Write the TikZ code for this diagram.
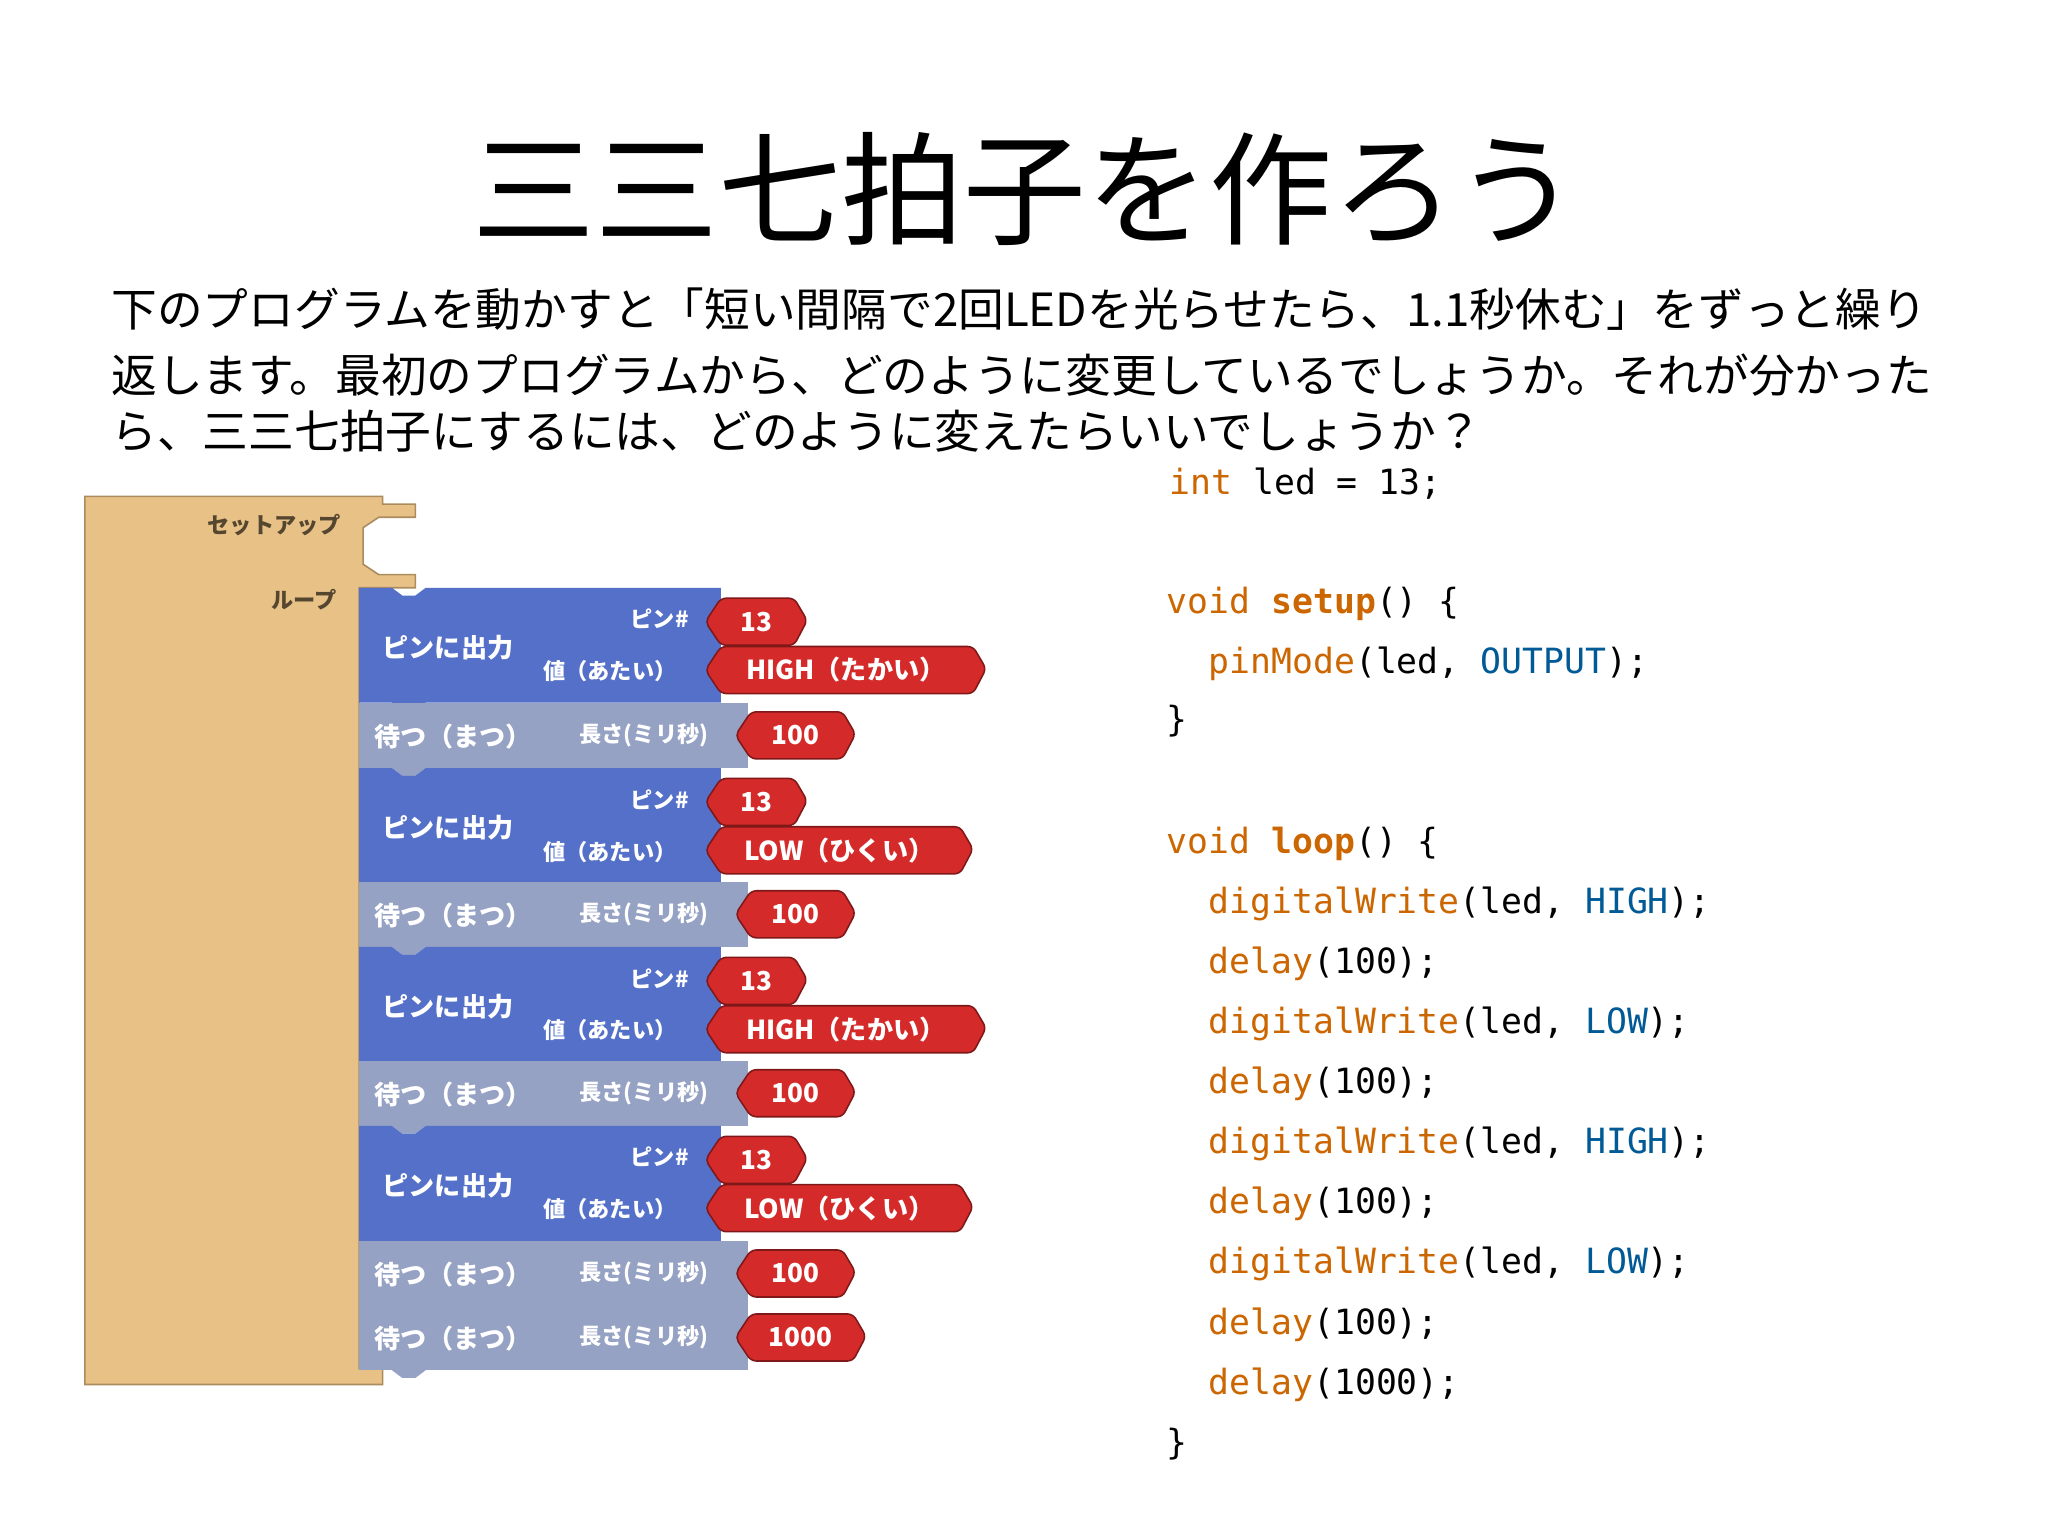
\documentclass[tikz,border=0pt]{standalone}
\usepackage{fontspec}
\setmainfont{Noto Sans CJK JP}
\newfontfamily\mono{DejaVu Sans Mono}
\definecolor{tan}{RGB}{232,193,135}
\definecolor{tanline}{RGB}{170,140,95}
\definecolor{bblue}{RGB}{84,112,200}
\definecolor{bwait}{RGB}{150,162,196}
\definecolor{bred}{RGB}{212,42,42}
\definecolor{kw}{RGB}{204,102,0}
\definecolor{cst}{RGB}{0,90,150}
\tikzset{
 blk/.style={font=\fontsize{10}{10}\selectfont\bfseries, text=white, anchor=center},
 sml/.style={font=\fontsize{8.5}{9}\selectfont\bfseries, text=white, anchor=center},
 code/.style={font=\mono\fontsize{13.3}{14}\selectfont, anchor=west, inner sep=0pt},
 redv/.style={fill=bred, draw=bred!60!black, line width=0.6pt, rounded corners=2pt},
}
\newcommand\redval[5]{% name, x0, y0, x1, text
 \filldraw[redv] (#2+12,#3) -- (#4-10,#3) -- (#4,#3+17) -- (#4-10,#3+36) -- (#2+12,#3+36) -- (#2,#3+18) -- cycle;
 \node[blk] (#1) at ({(#2+#4)/2},#3+18) {#5};}
\newcommand\pinout[4]{% name, y, value, right x
 \fill[bblue] (275,#2) -- (300,#2) -- (308,#2+6) -- (318,#2+6) -- (326,#2) -- (552,#2) -- (552,#2+88) -- (326,#2+88) -- (318,#2+94) -- (308,#2+94) -- (300,#2+88) -- (275,#2+88) -- cycle;
 \node[blk] (#1t) at (343,#2+46) {ピンに出力};
 \node[sml] (#1p) at (505,#2+24) {ピン\#};
 \node[sml] (#1v) at (467,#2+64) {値（あたい）};
 \redval{#1a}{540}{#2+8}{618}{13}
 \redval{#1b}{540}{#2+45}{#4}{#3}}
\newcommand\waitblk[4]{% name, y, value, right x
 \fill[bwait] (275,#2) rectangle (573,#2+50);
 \fill[bwait] (300,#2+50) -- (308,#2+56) -- (318,#2+56) -- (326,#2+50) -- cycle;
 \node[blk] (#1t) at (347,#2+26) {待つ（まつ）};
 \node[sml] (#1l) at (493,#2+25) {長さ(ミリ秒)};
 \redval{#1a}{563}{#2+7}{#4}{#3}}
\begin{document}
\begin{tikzpicture}[x=0.5pt,y=-0.5pt]
\useasboundingbox[fill=white] (0,0) rectangle (1568,1176);
\node[font=\fontsize{47}{50}\selectfont] (title) at (785,145) {三三七拍子を作ろう};
\node[anchor=west,font=\fontsize{17.5}{20}\selectfont,inner sep=0pt] (l1) at (85,237) {下のプログラムを動かすと「短い間隔で2回LEDを光らせたら、1.1秒休む」をずっと繰り};
\node[anchor=west,font=\fontsize{17.5}{20}\selectfont,inner sep=0pt] (l2) at (85,287) {返します。最初のプログラムから、どのように変更しているでしょうか。それが分かった};
\node[anchor=west,font=\fontsize{17.5}{20}\selectfont,inner sep=0pt] (l3) at (85,330) {ら、三三七拍子にするには、どのように変えたらいいでしょうか？};
% tan loop block
\filldraw[fill=tan,draw=tanline,line width=0.6pt] (65,380) -- (293,380) -- (293,386) -- (318,386) -- (318,396) -- (290,396) -- (278,404) -- (278,432) -- (290,440) -- (318,440) -- (318,450) -- (275,450) -- (275,1048) -- (293,1048) -- (293,1060) -- (65,1060) -- cycle;
\node[sml,text=tanline!50!black] (setup) at (210,402) {セットアップ};
\node[sml,text=tanline!50!black] (loop) at (233,459) {ループ};
\pinout{p1}{450}{HIGH（たかい）}{755}
\waitblk{w1}{538}{100}{655}
\pinout{p2}{588}{LOW（ひくい）}{745}
\waitblk{w2}{675}{100}{655}
\pinout{p3}{725}{HIGH（たかい）}{755}
\waitblk{w3}{812}{100}{655}
\pinout{p4}{862}{LOW（ひくい）}{745}
\waitblk{w4}{950}{100}{655}
\waitblk{w5}{999}{1000}{663}
% code
\node[code] (c1) at (895,370) {\textcolor{kw}{int} led = 13;};
\node[code] (c2) at (893,462) {\textcolor{kw}{void} \textcolor{kw}{\bfseries setup}() \{};
\node[code] (c3) at (925,508) {\textcolor{kw}{pinMode}(led, \textcolor{cst}{OUTPUT});};
\node[code] (c4) at (893,552) {\}};
\node[code] (c5) at (893,646) {\textcolor{kw}{void} \textcolor{kw}{\bfseries loop}() \{};
\node[code] (c6) at (925,692) {\textcolor{kw}{digitalWrite}(led, \textcolor{cst}{HIGH});};
\node[code] (c7) at (925,738) {\textcolor{kw}{delay}(100);};
\node[code] (c8) at (925,784) {\textcolor{kw}{digitalWrite}(led, \textcolor{cst}{LOW});};
\node[code] (c9) at (925,830) {\textcolor{kw}{delay}(100);};
\node[code] (c10) at (925,876) {\textcolor{kw}{digitalWrite}(led, \textcolor{cst}{HIGH});};
\node[code] (c11) at (925,922) {\textcolor{kw}{delay}(100);};
\node[code] (c12) at (925,968) {\textcolor{kw}{digitalWrite}(led, \textcolor{cst}{LOW});};
\node[code] (c13) at (925,1014) {\textcolor{kw}{delay}(100);};
\node[code] (c14) at (925,1060) {\textcolor{kw}{delay}(1000);};
\node[code] (c15) at (893,1106) {\}};
\end{tikzpicture}
\end{document}
